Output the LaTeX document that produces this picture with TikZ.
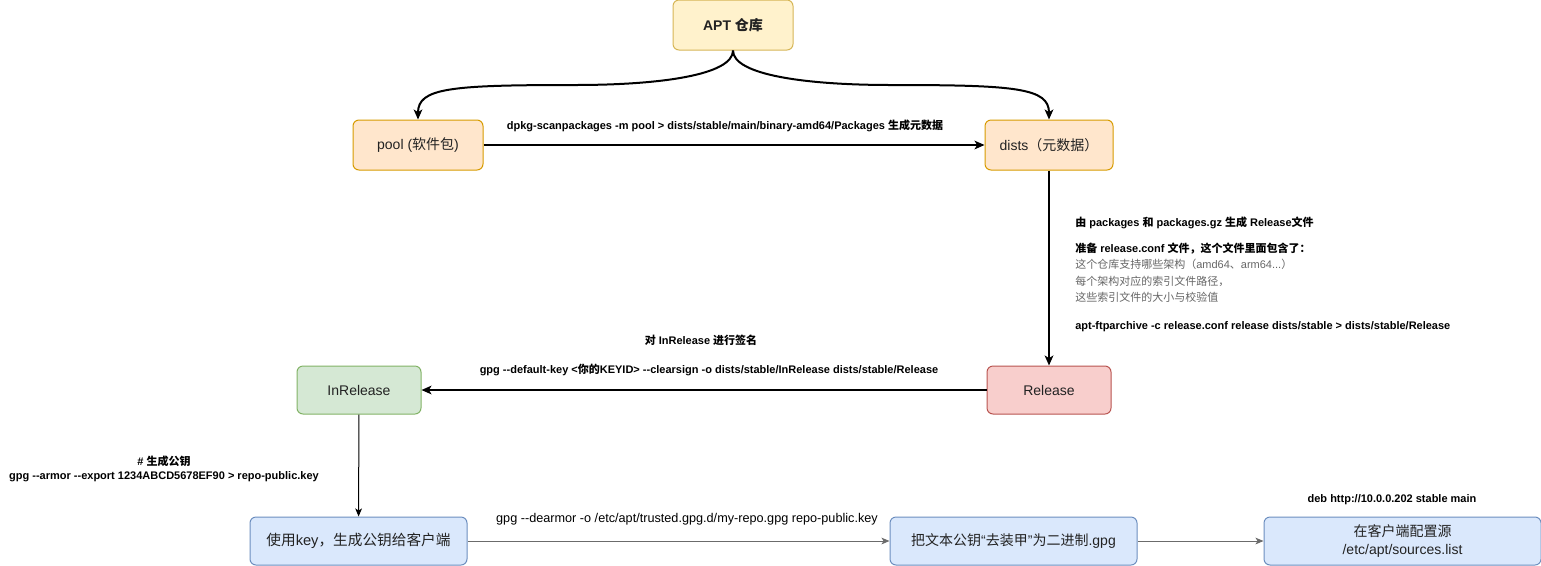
\documentclass[tikz,border=0pt]{standalone}
\usepackage{fontspec}
\setmainfont{Liberation Sans}[Ligatures=TeXOff]
\newfontfamily\cjkfont{Noto Sans CJK SC}[Ligatures=TeXOff]
\usetikzlibrary{arrows.meta}

% switch to the CJK font for Chinese characters
\XeTeXinterchartokenstate=1
\newXeTeXintercharclass\cjkclass
\newcount\cjkc
\def\cjkrange#1#2{\cjkc=#1\relax
  \loop\XeTeXcharclass\cjkc=\cjkclass\advance\cjkc by 1\ifnum\cjkc<#2\repeat}
\cjkrange{"4E00}{"A000}
\cjkrange{"3000}{"3040}
\cjkrange{"FF00}{"FFF0}
\XeTeXinterchartoks 0 \cjkclass = {\begingroup\cjkfont}
\XeTeXinterchartoks 4095 \cjkclass = {\begingroup\cjkfont}
\XeTeXinterchartoks \cjkclass 0 = {\endgroup}
\XeTeXinterchartoks \cjkclass 4095 = {\endgroup}

\definecolor{yellowfill}{HTML}{FFF2CC}
\definecolor{yellowline}{HTML}{D6B656}
\definecolor{orangefill}{HTML}{FFE6CC}
\definecolor{orangeline}{HTML}{D79B00}
\definecolor{redfill}{HTML}{F8CECC}
\definecolor{redline}{HTML}{B85450}
\definecolor{greenfill}{HTML}{D5E8D4}
\definecolor{greenline}{HTML}{82B366}
\definecolor{bluefill}{HTML}{DAE8FC}
\definecolor{blueline}{HTML}{6C8EBF}
\definecolor{nodetext}{HTML}{222222}
\definecolor{softtext}{HTML}{666666}
\definecolor{greyline}{HTML}{6B6B6B}

\tikzset{
  box/.style={draw, line width=0.75pt, rounded corners=4.5pt, minimum height=36pt,
    align=center, text=nodetext, font=\fontsize{10.5}{13}\selectfont},
  lbl/.style={font=\bfseries\fontsize{8.25}{10.5}\selectfont, align=center, inner sep=0pt},
  bigarrow/.style={line width=1.5pt, -{Stealth[length=7.5pt, width=6.5pt, inset=2pt]}},
  smallarrow/.style={line width=0.75pt, -{Stealth[length=6pt, width=5pt, inset=1.5pt]}}
}

\begin{document}
\begin{tikzpicture}[x=0.75pt, y=-0.75pt]
    \useasboundingbox (0,0) rectangle (1541,565);

    % Define nodes for the repository and its parts
    \node[box, fill=yellowfill, draw=yellowline, minimum width=90pt, minimum height=37.5pt, font=\bfseries\fontsize{10.5}{13}\selectfont] (apt) at (733,25) {APT 仓库};
    \node[box, fill=orangefill, draw=orangeline, minimum width=97.5pt, minimum height=37.5pt] (pool) at (418,145) {pool (软件包)};
    \node[box, fill=orangefill, draw=orangeline, minimum width=96pt, minimum height=37.5pt] (dists) at (1049,145) {dists（元数据）};
    \node[box, fill=redfill, draw=redline, minimum width=93pt] (release) at (1049,390) {Release};
    \node[box, fill=greenfill, draw=greenline, minimum width=93pt] (inrelease) at (359,390) {InRelease};

    % Client side nodes
    \node[box, fill=bluefill, draw=blueline, minimum width=162.75pt, font=\fontsize{11}{13}\selectfont] (pubkey) at (358.5,541) {使用key，生成公钥给客户端};
    \node[box, fill=bluefill, draw=blueline, minimum width=185.25pt] (dearmor) at (1013.5,541) {把文本公钥“去装甲”为二进制.gpg};
    \node[box, fill=bluefill, draw=blueline, minimum width=207.75pt] (sources) at (1402.5,541) {在客户端配置源\\/etc/apt/sources.list};

    % Repository split into pool and dists
    \draw[bigarrow] (apt.south) .. controls (733,75) and (660,85) .. (575,85)
        .. controls (450,85) and (418,88) .. (pool.north);
    \draw[bigarrow] (apt.south) .. controls (733,75) and (806,85) .. (891,85)
        .. controls (1016,85) and (1049,88) .. (dists.north);

    % Metadata and signing steps
    \draw[bigarrow] (pool) -- (dists);
    \draw[bigarrow] (dists) -- (release);
    \draw[bigarrow] (release) -- (inrelease);
    \draw[smallarrow] (inrelease) -- (pubkey);
    \draw[smallarrow, color=greyline] (pubkey) -- (dearmor);
    \draw[smallarrow, color=greyline] (dearmor) -- (sources);

    % Labels for the commands
    \node[lbl] (scanlbl) at (725,126) {dpkg-scanpackages -m pool > dists/stable/main/binary-amd64/Packages 生成元数据};
    \node[lbl, anchor=north west, align=left, font=\bfseries\fontsize{8.25}{12.4}\selectfont] (releaselbl) at (1075,217)
        {由 packages 和 packages.gz 生成 Release文件\\[6.5pt]
         准备 release.conf 文件，这个文件里面包含了：\\
         {\mdseries\color{softtext}这个仓库支持哪些架构（amd64、arm64...）}\\
         {\mdseries\color{softtext}每个架构对应的索引文件路径，}\\
         {\mdseries\color{softtext}这些索引文件的大小与校验值}\\[8.5pt]
         apt-ftparchive -c release.conf release dists/stable > dists/stable/Release};
    \node[lbl] (signlbl) at (701,340) {对 InRelease 进行签名};
    \node[lbl] (gpglbl) at (709,370) {gpg --default-key <你的KEYID> --clearsign -o dists/stable/InRelease dists/stable/Release};
    \node[lbl] (exportlbl) at (164,469) {\# 生成公钥\\gpg --armor --export 1234ABCD5678EF90 > repo-public.key};
    \node[lbl, font=\fontsize{9.5}{11}\selectfont] (dearmorlbl) at (687,519) {gpg --dearmor -o /etc/apt/trusted.gpg.d/my-repo.gpg repo-public.key};
    \node[lbl] (deblbl) at (1392,500) {deb http://10.0.0.202 stable main};
\end{tikzpicture}
\end{document}
